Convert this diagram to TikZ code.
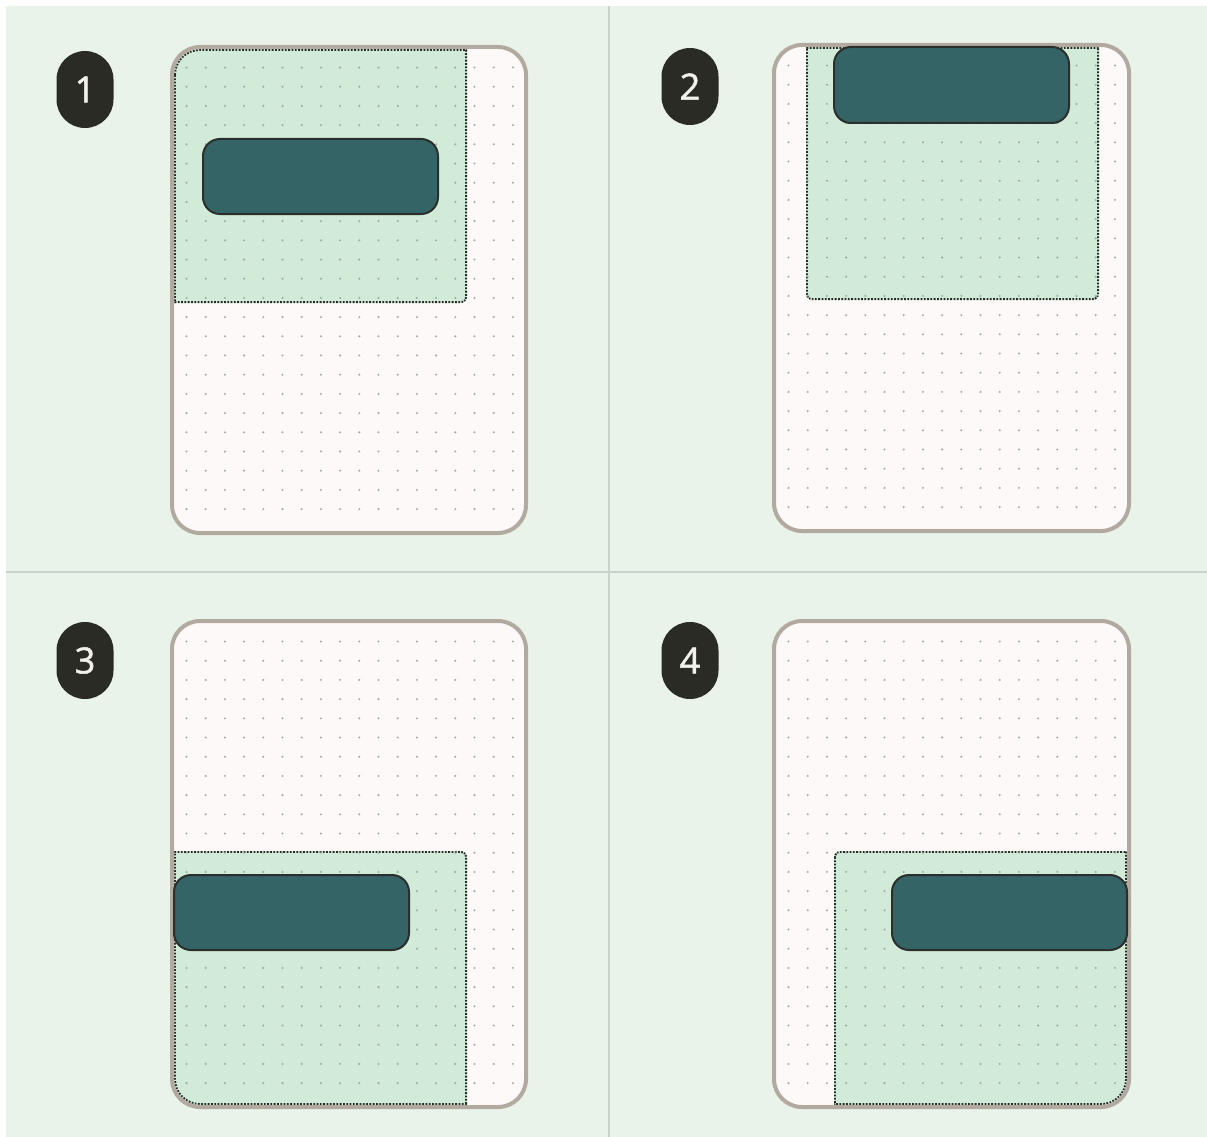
\documentclass[tikz,border=0pt]{standalone}
\usepackage{fontspec}
\setmainfont{Open Sans}
\newfontfamily\badgefont{Open Sans}[FakeBold=1.5]
\definecolor{bgc}{HTML}{E9F3EA}
\definecolor{divc}{HTML}{C6D3CA}
\definecolor{framefill}{HTML}{FCF9F8}
\definecolor{framec}{HTML}{B2AA9F}
\definecolor{greenc}{HTML}{D2EBD8}
\definecolor{dotc}{HTML}{8E9A96}
\definecolor{btnfill}{HTML}{356466}
\definecolor{btnline}{HTML}{2A2E2C}
\definecolor{badgec}{HTML}{2B2B26}
\definecolor{badgetext}{HTML}{F2F0EA}
\definecolor{dashc}{HTML}{262A28}
\tikzset{
  badge/.style={fill=badgec, rounded corners=28.5pt, minimum width=57pt, minimum height=77pt,
    inner sep=0pt, text=badgetext, font=\badgefont\fontsize{36}{40}\selectfont},
  button/.style={fill=btnfill, draw=btnline, line width=2pt, rounded corners=17pt,
    minimum width=235pt, minimum height=75pt, inner sep=0pt},
  framestroke/.style={draw=framec, line width=4pt, rounded corners=28pt},
  dotborder/.style={draw=dashc, line width=3.8pt, dash pattern=on 1.8pt off 1.5pt},
}
\newcommand\phonepanel[8]{%
  \fill[framefill, rounded corners=28pt] (#1,#2) rectangle (#3,#4);
  \begin{scope}
    \clip[rounded corners=26pt] (#1+2,#2+2) rectangle (#3-2,#4-2);
    \begin{scope}
      \clip[rounded corners=6pt] (#5,#6) rectangle (#7,#8);
      \fill[greenc] (#5,#6) rectangle (#7,#8);
      \draw[dotborder, rounded corners=6pt] (#5,#6) rectangle (#7,#8);
      \draw[dotborder, rounded corners=26pt] (#1+2,#2+2) rectangle (#3-2,#4-2);
    \end{scope}
    \foreach \i in {0,...,17}{
      \foreach \j in {0,...,23}{
        \fill[dotc, opacity=0.8] (#1+14.5+\i*19.2, #2+20.5+\j*19.2) circle (1.15pt);
      }
    }
  \end{scope}
  \draw[framestroke] (#1,#2) rectangle (#3,#4);
}
\begin{document}
\begin{tikzpicture}[x=1pt,y=-1pt]
\useasboundingbox (0,0) rectangle (1207,1137);
\fill[white] (0,0) rectangle (1207,1137);
\fill[bgc] (6,6) rectangle (1207,1137);
\draw[divc, line width=2pt] (608.5,6) -- (608.5,1137);
\draw[divc, line width=2pt] (6,572) -- (1207,572);

% panel 1
\phonepanel{172}{47}{526}{533}{160}{35}{467}{303}
\node[button] (btn1) at (320.5,176.5) {};
\node[badge] (b1) at (85,89.5) {1};

% panel 2
\phonepanel{774}{45}{1129}{531}{806}{33}{1099}{300}
\node[button, minimum height=76pt] (btn2) at (951.5,85) {};
\node[badge] (b2) at (690,86.5) {2};

% panel 3
\phonepanel{172}{621}{526}{1107}{160}{851}{467}{1120}
\node[button] (btn3) at (291.5,912.5) {};
\node[badge] (b3) at (85,660.5) {3};

% panel 4
\phonepanel{774}{621}{1129}{1107}{834}{851}{1140}{1120}
\node[button] (btn4) at (1009.5,912.5) {};
\node[badge] (b4) at (690,660.5) {4};
\end{tikzpicture}
\end{document}
